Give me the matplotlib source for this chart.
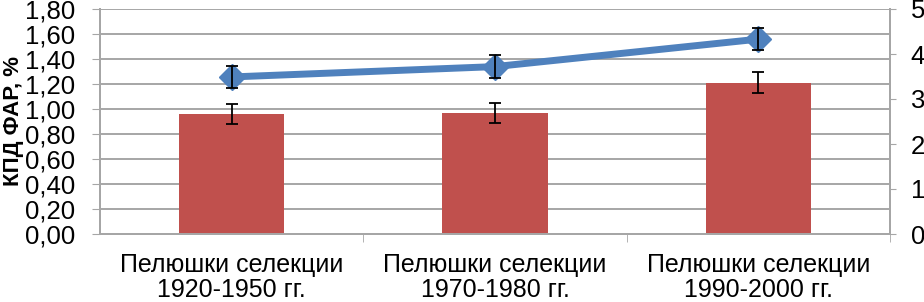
import numpy as np
import matplotlib
matplotlib.use('Agg')
import matplotlib.pyplot as plt

plt.rcParams['font.family'] = ['Liberation Sans', 'DejaVu Sans']

# data
categories = ['Пелюшки селекции\n1920-1950 гг.',
              'Пелюшки селекции\n1970-1980 гг.',
              'Пелюшки селекции\n1990-2000 гг.']
kpd_far = [0.96, 0.97, 1.21]          # bars, left axis, %
kpd_err = [0.08, 0.08, 0.085]
line_vals = [3.49, 3.72, 4.33]        # line, right axis
line_err = [0.25, 0.25, 0.25]

bar_color = '#C0504D'
line_color = '#4F81BD'
grid_color = '#A6A6A6'

fig = plt.figure(figsize=(9.24, 3.02), dpi=100)
ax = fig.add_axes([100 / 924, 1 - 234 / 302, 790 / 924, 225 / 302])
x = np.arange(len(categories))

ax.set_axisbelow(True)
ax.yaxis.grid(True, color=grid_color, lw=1.4)
ax.bar(x, kpd_far, width=0.4, color=bar_color, zorder=2)
ax.errorbar(x, kpd_far, yerr=kpd_err, fmt='none', ecolor='black',
            elinewidth=1.3, capsize=4, capthick=1.3, zorder=3)

ax.set_xlim(-0.5, 2.5)
ax.set_ylim(0, 1.8)
ax.set_yticks(np.arange(0, 1.81, 0.2))
ax.set_yticklabels([f'{v:.2f}'.replace('.', ',') for v in np.arange(0, 1.81, 0.2)])
ax.set_xticks(x)
ax.set_xticklabels(categories, fontsize=18, linespacing=1.05)
ax.tick_params(axis='x', length=0, pad=14)
ax.set_xticks([0.5, 1.5, 2.5], minor=True)
ax.tick_params(axis='x', which='minor', length=6, color=grid_color, direction='out')
ax.tick_params(axis='y', labelsize=18.5, length=6, color=grid_color, pad=12)
ax.set_ylabel('КПД ФАР, %', fontsize=16, fontweight='bold')
ax.yaxis.set_label_coords(-76 / 790, 0.5)

ax.spines['top'].set_visible(False)
for side in ['left', 'bottom', 'right']:
    ax.spines[side].set_color(grid_color)
    ax.spines[side].set_linewidth(1.4)

ax2 = ax.twinx()
ax2.plot(x, line_vals, color=line_color, lw=5, marker='D', markersize=13,
         zorder=4)
ax2.errorbar(x, line_vals, yerr=line_err, fmt='none', ecolor='black',
             elinewidth=1.3, capsize=4, capthick=1.3, zorder=5)
ax2.set_ylim(0, 5)
ax2.set_yticks(range(0, 6))
ax2.tick_params(axis='y', labelsize=18.5, length=4, color=grid_color, pad=11)
ax2.spines['top'].set_visible(False)
for side in ['left', 'bottom', 'right']:
    ax2.spines[side].set_color(grid_color)
    ax2.spines[side].set_linewidth(1.4)

fig.savefig('out.png', dpi=100)
